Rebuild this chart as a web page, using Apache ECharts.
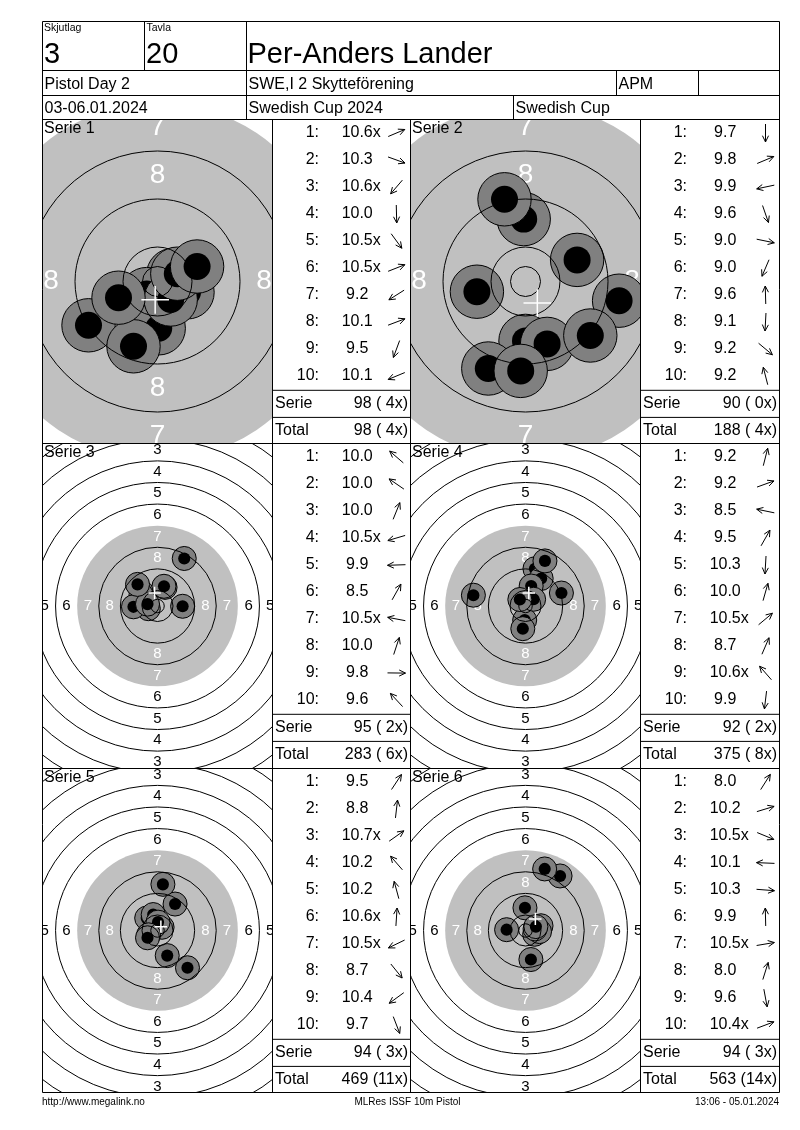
<!DOCTYPE html>
<html><head><meta charset="utf-8">
<script src="https://cdn.jsdelivr.net/npm/echarts@6/dist/echarts.min.js"></script>
<style>html,body{margin:0;padding:0;background:#fff}#c{width:800px;height:1130px}</style>
</head><body><div id="c"></div>
<script>
// ---------------- DATA ----------------
const seriesTitles = ['Serie 1', 'Serie 2', 'Serie 3', 'Serie 4', 'Serie 5', 'Serie 6'];

const s1Score = [10.6, 10.3, 10.6, 10.0, 10.5, 10.5, 9.2, 10.1, 9.5, 10.1];
const s1Inner = [1, 0, 1, 0, 1, 1, 0, 0, 0, 0];
const s1X = [2.6, 5.0, -1.8, 0.2, 2.2, 3.3, -11.5, 6.6, -4.0, -6.5];
const s1Y = [1.1, -1.8, -2.1, -7.8, -3.0, 1.3, -7.3, 2.5, -10.8, -2.7];

const s2Score = [9.7, 9.8, 9.9, 9.6, 9.0, 9.0, 9.6, 9.1, 9.2, 9.2];
const s2Inner = [0, 0, 0, 0, 0, 0, 0, 0, 0, 0];
const s2X = [0.0, 8.6, -8.1, 3.6, 15.6, -6.2, -0.3, -0.8, 10.8, -3.5];
const s2Y = [-9.9, 3.6, -1.7, -10.4, -3.2, -14.5, 10.4, -14.9, -9.0, 13.7];

const s3Score = [10.0, 10.0, 10.0, 10.5, 9.9, 8.5, 10.5, 10.0, 9.8, 9.6];
const s3Inner = [0, 0, 0, 1, 0, 0, 1, 0, 0, 0];
const s3X = [-5.7, -6.1, 2.8, -3.4, -8.9, 9.9, -3.7, 2.4, 9.3, -7.4];
const s3Y = [4.9, 4.2, 6.9, -1.0, -0.3, 17.6, 0.7, 7.3, -0.1, 8.0];

const s4Score = [9.2, 9.2, 8.5, 9.5, 10.3, 10.0, 10.5, 8.7, 10.6, 9.9];
const s4Inner = [0, 0, 0, 0, 0, 0, 1, 0, 1, 0];
const s4X = [3.5, 13.3, -19.3, 5.8, -0.3, 2.1, 3.0, 7.2, -2.1, -1.0];
const s4Y = [13.8, 4.8, 4.0, 10.2, -5.2, 7.4, 2.5, 16.7, 2.4, -8.4];

const s5Score = [9.5, 8.8, 10.7, 10.2, 10.2, 10.6, 10.5, 8.7, 10.4, 9.7];
const s5Inner = [0, 0, 1, 0, 0, 1, 1, 0, 0, 0];
const s5X = [6.5, 2.0, 1.7, -4.0, -1.6, 0.2, -3.3, 11.1, -3.7, 3.6];
const s5Y = [9.8, 17.1, 1.2, 4.6, 5.9, 3.1, -1.6, -13.8, -2.7, -9.3];

const s6Score = [8.0, 10.2, 10.5, 10.1, 10.3, 9.9, 10.5, 8.0, 9.6, 10.4];
const s6Inner = [0, 0, 1, 0, 0, 0, 1, 0, 0, 1];
const s6X = [12.8, 5.75, 3.4, -7.0, 5.2, -0.2, 3.55, 7.1, 2.0, 3.85];
const s6Y = [20.2, 1.75, -1.4, 0.3, -0.4, 8.4, 0.6, 22.8, -10.75, 1.45];

const headerTexts = {
  lblSquad: 'Skjutlag', squad: '3', lblLane: 'Tavla', lane: '20',
  name: 'Per-Anders Lander', event: 'Pistol Day 2', club: 'SWE,I 2 Skytteförening',
  cls: 'APM', date: '03-06.01.2024', comp: 'Swedish Cup 2024', cup: 'Swedish Cup'
};
const footerTexts = ['http://www.megalink.no', 'MLRes ISSF 10m Pistol', '13:06 - 05.01.2024'];

// target geometry (ISSF 10m pistol, mm)
const ringLines = [77.75, 69.75, 61.75, 53.75, 45.75, 37.75, 21.75, 13.75, 5.75, 2.5];
const ringLabelNums = [1, 2, 3, 4, 5, 6, 7, 8];
const blackZoneR = 29.75;
const haloR = 4.45, pelletR = 2.25;

// ---------------- LAYOUT / STYLE ----------------
const allScore = [s1Score, s2Score, s3Score, s4Score, s5Score, s6Score];
const allInner = [s1Inner, s2Inner, s3Inner, s4Inner, s5Inner, s6Inner];
const allX = [s1X, s2X, s3X, s4X, s5X, s6X];
const allY = [s1Y, s2Y, s3Y, s4Y, s5Y, s6Y];

const FONT = '"Liberation Sans", Arial, sans-serif';
const rowLines = [119.5, 443.5, 768.5, 1092.5];
const targetLeft = [42.5, 410.5];
const tableLeft = [272.5, 640.5];
const tableRight = [410.5, 779.5];
const targetW = 230;
const pxPerMm = [6, 6, 2.7, 2.7, 2.7, 2.7];
const labelFont = [28, 28, 15, 15, 15, 15];

const grids = [], xAxes = [], yAxes = [], series = [];
for (let i = 0; i < 6; i++) {
  const row = Math.floor(i / 2), col = i % 2;
  const top = rowLines[row], h = rowLines[row + 1] - rowLines[row];
  const s = pxPerMm[i];
  grids.push({ left: targetLeft[col], top: top, width: targetW, height: h, show: false });
  xAxes.push({ type: 'value', gridIndex: i, min: -targetW / 2 / s, max: targetW / 2 / s, show: false });
  yAxes.push({ type: 'value', gridIndex: i, min: -h / 2 / s, max: h / 2 / s, show: false });

  const lf = labelFont[i];
  // background disc + ring numbers
  series.push({
    type: 'custom', xAxisIndex: i, yAxisIndex: i, clip: true, z: 1, silent: true,
    data: [[0, 0]],
    renderItem: function (params, api) {
      const c = api.coord([0, 0]);
      const k = api.size([1, 1])[0];
      const ch = [{ type: 'circle', shape: { cx: c[0], cy: c[1], r: blackZoneR * k }, style: { fill: '#c0c0c0' } }];
      ringLabelNums.forEach(function (n) {
        const r = (81.75 - 8 * n) * k;
        const fill = n >= 7 ? '#ffffff' : '#000000';
        [[0, -r], [0, r], [-r, 0], [r, 0]].forEach(function (d) {
          ch.push({ type: 'text', x: c[0] + d[0], y: c[1] + d[1],
            style: { text: String(n), fill: fill, font: lf + 'px ' + FONT, align: 'center', verticalAlign: 'middle' } });
        });
      });
      return { type: 'group', children: ch };
    }
  });
  // shots
  const shotData = allX[i].map(function (x, j) { return [x, allY[i][j]]; });
  series.push({
    type: 'custom', xAxisIndex: i, yAxisIndex: i, clip: true, z: 2, silent: true,
    data: shotData,
    renderItem: function (params, api) {
      const c = api.coord([api.value(0), api.value(1)]);
      const k = api.size([1, 1])[0];
      return { type: 'group', children: [
        { type: 'circle', shape: { cx: c[0], cy: c[1], r: haloR * k }, style: { fill: '#808080', stroke: '#000', lineWidth: 1 } },
        { type: 'circle', shape: { cx: c[0], cy: c[1], r: pelletR * k }, style: { fill: '#000' } }
      ] };
    }
  });
  // ring lines (drawn over shots)
  series.push({
    type: 'custom', xAxisIndex: i, yAxisIndex: i, clip: true, z: 3, silent: true,
    data: [[0, 0]],
    renderItem: function (params, api) {
      const c = api.coord([0, 0]);
      const k = api.size([1, 1])[0];
      return { type: 'group', children: ringLines.map(function (r) {
        return { type: 'circle', shape: { cx: c[0], cy: c[1], r: r * k }, style: { fill: 'none', stroke: '#000', lineWidth: 1 } };
      }) };
    }
  });
  // mean point of impact
  const mx = allX[i].reduce((a, b) => a + b, 0) / allX[i].length;
  const my = allY[i].reduce((a, b) => a + b, 0) / allY[i].length;
  series.push({
    type: 'custom', xAxisIndex: i, yAxisIndex: i, clip: true, z: 4, silent: true,
    data: [[mx, my]],
    renderItem: function (params, api) {
      const c = api.coord([api.value(0), api.value(1)]);
      const a = 2.3 * api.size([1, 1])[0];
      return { type: 'group', children: [
        { type: 'line', shape: { x1: c[0] - a, y1: c[1], x2: c[0] + a, y2: c[1] }, style: { stroke: '#fff', lineWidth: 1.5 } },
        { type: 'line', shape: { x1: c[0], y1: c[1] - a, x2: c[0], y2: c[1] + a }, style: { stroke: '#fff', lineWidth: 1.5 } }
      ] };
    }
  });
}

// ---------------- GRAPHIC (header, tables, footer) ----------------
const g = [];
function line(x1, y1, x2, y2) {
  g.push({ type: 'line', z: 100, silent: true, shape: { x1, y1, x2, y2 }, style: { stroke: '#000', lineWidth: 1 } });
}
function text(t, x, y, size, align, color) {
  g.push({ type: 'text', z: 100, silent: true, x: x, y: y,
    style: { text: t, font: size + 'px ' + FONT, fill: color || '#000', align: align || 'left', verticalAlign: 'middle' } });
}
function arrow(cx, cy, ang) {
  const dx = Math.cos(ang), dy = -Math.sin(ang), L = 9;
  const tx = cx + L * dx, ty = cy + L * dy;
  line(cx - L * dx, cy - L * dy, tx, ty);
  const w = 7, spread = 0.45;
  const bx = -dx, by = -dy;
  const p1 = [tx + w * (bx * Math.cos(spread) - by * Math.sin(spread)), ty + w * (bx * Math.sin(spread) + by * Math.cos(spread))];
  const p2 = [tx + w * (bx * Math.cos(-spread) - by * Math.sin(-spread)), ty + w * (bx * Math.sin(-spread) + by * Math.cos(-spread))];
  g.push({ type: 'polyline', z: 100, silent: true, shape: { points: [p1, [tx, ty], p2] }, style: { stroke: '#000', lineWidth: 1, fill: null } });
}

// frame + header lines
const L0 = 42.5, R0 = 779.5, TOP = 21.5;
line(L0, TOP, R0, TOP); line(L0, rowLines[3], R0, rowLines[3]);
line(L0, TOP, L0, rowLines[3]); line(R0, TOP, R0, rowLines[3]);
line(L0, 70.5, R0, 70.5); line(L0, 95.5, R0, 95.5); line(L0, 119.5, R0, 119.5);
line(L0, 443.5, R0, 443.5); line(L0, 768.5, R0, 768.5);
line(144.5, TOP, 144.5, 70.5); line(246.5, TOP, 246.5, 119.5);
line(616.5, 70.5, 616.5, 95.5); line(698.5, 70.5, 698.5, 95.5);
line(513.5, 95.5, 513.5, 119.5);
line(272.5, 119.5, 272.5, 1092.5); line(410.5, 119.5, 410.5, 1092.5); line(640.5, 119.5, 640.5, 1092.5);

text(headerTexts.lblSquad, 44, 28, 10.5);
text(headerTexts.lblLane, 146.5, 28, 10.5);
text(headerTexts.squad, 44, 54.5, 29);
text(headerTexts.lane, 146, 54.5, 29);
text(headerTexts.name, 247.5, 54.5, 29);
text(headerTexts.event, 44.5, 85, 16);
text(headerTexts.club, 248.5, 85, 16);
text(headerTexts.cls, 618.5, 85, 16);
text(headerTexts.date, 44.5, 108.5, 16);
text(headerTexts.comp, 248.5, 108.5, 16);
text(headerTexts.cup, 515.5, 108.5, 16);

// tables
const FS = 16, DIG = 0.556 * FS, DOT = 0.278 * FS;
let cumSum = 0, cumX = 0;
for (let i = 0; i < 6; i++) {
  const row = Math.floor(i / 2), col = i % 2;
  const T = rowLines[row], tl = tableLeft[col], tr = tableRight[col];
  text(seriesTitles[i], targetLeft[col] + 1.5, T + 9.5, FS);
  for (let j = 0; j < 10; j++) {
    const y = T + 13.5 + j * 27;
    text((j + 1) + ':', tl + 46.5, y, FS, 'right');
    const num = allScore[i][j].toFixed(1);
    const cx = tl + 84.7;
    text(num, cx, y, FS, 'center');
    if (allInner[i][j]) {
      const w = (num.length - 1) * DIG + DOT;
      text('x', cx + w / 2, y, FS, 'left');
    }
    arrow(tr - 14, y, Math.atan2(allY[i][j], allX[i][j]));
  }
  line(tl, T + 270.8, tr, T + 270.8);
  line(tl, T + 297.9, tr, T + 297.9);
  const sSum = allScore[i].reduce((a, v) => a + Math.floor(v + 1e-9), 0);
  const sX = allInner[i].reduce((a, v) => a + v, 0);
  cumSum += sSum; cumX += sX;
  const fmt = (v, x) => v + ' (' + String(x).padStart(2, ' ') + 'x)';
  text('Serie', tl + 2.5, T + 284.3, FS);
  text(fmt(sSum, sX), tr - 2.5, T + 284.3, FS, 'right');
  text('Total', tl + 2.5, T + 311.2, FS);
  text(fmt(cumSum, cumX), tr - 2.5, T + 311.2, FS, 'right');
}

// footer
text(footerTexts[0], 42, 1102.5, 10);
text(footerTexts[1], 407.5, 1102.5, 10, 'center');
text(footerTexts[2], 779, 1102.5, 10, 'right');

const chart = echarts.init(document.getElementById('c'));
chart.setOption({
  animation: false,
  backgroundColor: '#ffffff',
  grid: grids, xAxis: xAxes, yAxis: yAxes,
  series: series,
  graphic: { elements: g }
});
</script>
</body></html>
